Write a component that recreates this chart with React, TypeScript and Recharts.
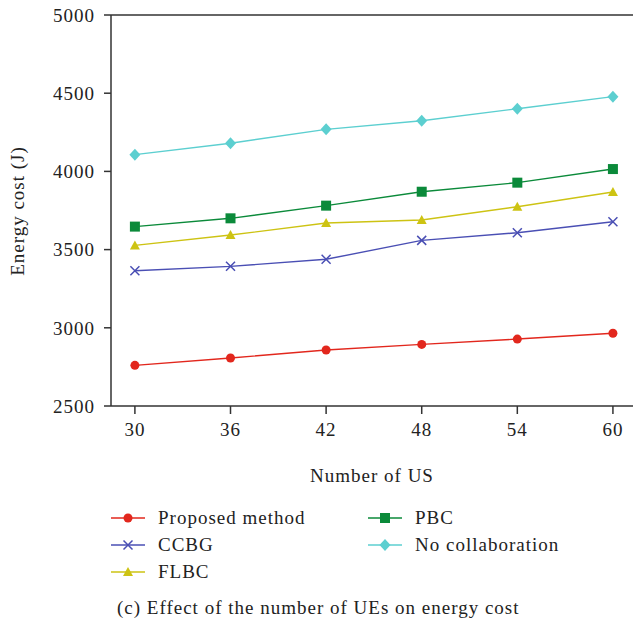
import React from "react";
import { LineChart, Line, XAxis, YAxis, ReferenceLine } from "recharts";

const users = [30, 36, 42, 48, 54, 60];
const proposed = [2760, 2807, 2858, 2894, 2928, 2965];
const ccbg = [3365, 3393, 3438, 3559, 3608, 3678];
const flbc = [3527, 3593, 3670, 3689, 3774, 3868];
const pbc = [3647, 3700, 3781, 3870, 3928, 4015];
const noCollab = [4107, 4180, 4269, 4324, 4401, 4478];

const yTicks = [2500, 3000, 3500, 4000, 4500, 5000];

type Shape = "circle" | "cross" | "triangle" | "square" | "diamond";

const series: Array<{ key: string; label: string; color: string; shape: Shape }> = [
  { key: "proposed", label: "Proposed method", color: "#e2271d", shape: "circle" },
  { key: "ccbg", label: "CCBG", color: "#4a4fb4", shape: "cross" },
  { key: "flbc", label: "FLBC", color: "#cdc313", shape: "triangle" },
  { key: "pbc", label: "PBC", color: "#0b8a3a", shape: "square" },
  { key: "noCollab", label: "No collaboration", color: "#5ccfd0", shape: "diamond" }
];

const data = users.map((u, i) => ({
  users: u,
  proposed: proposed[i],
  ccbg: ccbg[i],
  flbc: flbc[i],
  pbc: pbc[i],
  noCollab: noCollab[i]
}));

const FONT = "'Liberation Serif', 'DejaVu Serif', serif";

function Marker({ cx, cy, shape, color }: { cx: number; cy: number; shape: Shape; color: string }) {
  switch (shape) {
    case "circle":
      return <circle cx={cx} cy={cy} r={4.5} fill={color} />;
    case "cross":
      return (
        <path
          d={`M${cx - 4.5},${cy - 4.5}L${cx + 4.5},${cy + 4.5}M${cx - 4.5},${cy + 4.5}L${cx + 4.5},${cy - 4.5}`}
          stroke={color}
          strokeWidth={1.5}
          fill="none"
        />
      );
    case "triangle":
      return <path d={`M${cx},${cy - 5}L${cx + 5},${cy + 4}L${cx - 5},${cy + 4}Z`} fill={color} />;
    case "square":
      return <rect x={cx - 5} y={cy - 5} width={10} height={10} fill={color} />;
    default:
      return <path d={`M${cx},${cy - 6}L${cx + 5.5},${cy}L${cx},${cy + 6}L${cx - 5.5},${cy}Z`} fill={color} />;
  }
}

function LegendItem({ label, color, shape }: { label: string; color: string; shape: Shape }) {
  return (
    <div style={{ display: "flex", alignItems: "center", height: 27 }}>
      <svg width={36} height={14} style={{ marginRight: 11 }}>
        <line x1={0} y1={7} x2={34} y2={7} stroke={color} strokeWidth={1.5} />
        <Marker cx={17} cy={7} shape={shape} color={color} />
      </svg>
      <span>{label}</span>
    </div>
  );
}

export default function App() {
  const axisStroke = "#333";
  const tickStyle = { fill: "#222", fontSize: 19, fontFamily: FONT, letterSpacing: 1 };
  return (
    <div
      style={{
        position: "absolute",
        left: 0,
        top: 0,
        width: 633,
        height: 631,
        background: "#fff",
        fontFamily: FONT,
        color: "#222",
        letterSpacing: 1
      }}
    >
      <LineChart width={633} height={500} data={data} margin={{ top: 15, right: 0, bottom: 0, left: 0 }}>
        <XAxis
          dataKey="users"
          type="number"
          domain={[28.5, 61.26]}
          ticks={users}
          height={94}
          stroke={axisStroke}
          strokeWidth={1.5}
          tickSize={8}
          tickMargin={9}
          tick={tickStyle}
        />
        <YAxis
          type="number"
          domain={[2500, 5000]}
          ticks={yTicks}
          width={111}
          stroke={axisStroke}
          strokeWidth={1.5}
          tickSize={7}
          tickMargin={9}
          tick={tickStyle}
        />
        <ReferenceLine y={5000} stroke={axisStroke} strokeWidth={1.5} />
        {series.map((s) => (
          <Line
            key={s.key}
            dataKey={s.key}
            name={s.label}
            stroke={s.color}
            strokeWidth={1.4}
            isAnimationActive={false}
            dot={(p: any) => <Marker key={`${s.key}-${p.index}`} cx={p.cx} cy={p.cy} shape={s.shape} color={s.color} />}
            activeDot={false}
          />
        ))}
      </LineChart>
      <div
        style={{
          position: "absolute",
          left: 18,
          top: 211,
          transform: "translate(-50%, -50%) rotate(-90deg)",
          whiteSpace: "nowrap",
          fontSize: 19
        }}
      >
        Energy cost (J)
      </div>
      <div style={{ position: "absolute", left: 372, top: 476, transform: "translate(-50%, -50%)", fontSize: 19, whiteSpace: "nowrap" }}>
        Number of US
      </div>
      <div style={{ position: "absolute", left: 111, top: 504, fontSize: 19 }}>
        {series.slice(0, 3).map((s) => (
          <LegendItem key={s.key} label={s.label} color={s.color} shape={s.shape} />
        ))}
      </div>
      <div style={{ position: "absolute", left: 368, top: 504, fontSize: 19 }}>
        {series.slice(3).map((s) => (
          <LegendItem key={s.key} label={s.label} color={s.color} shape={s.shape} />
        ))}
      </div>
      <div style={{ position: "absolute", left: 117, top: 597, fontSize: 19, whiteSpace: "nowrap" }}>
        (c) Effect of the number of UEs on energy cost
      </div>
    </div>
  );
}
